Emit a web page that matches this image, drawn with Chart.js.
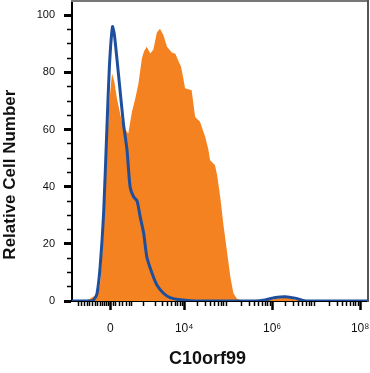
<!DOCTYPE html>
<html>
<head>
<meta charset="utf-8">
<script src="https://cdn.jsdelivr.net/npm/chart.js@4/dist/chart.umd.min.js"></script>
<style>
  html, body { margin: 0; padding: 0; background: #fff; }
  #wrap { width: 370px; height: 373px; }
</style>
</head>
<body>
<div id="wrap"><canvas id="histo"></canvas></div>
<script>
// x values are in display units of the biexponential axis (10^4 -> 4, 10^6 -> 6 ...)
const xTickValues = [2.32, 4, 6, 8];
const xTickLabels = ['0', '10⁴', '10⁶', '10⁸'];
const yTickValues = [0, 20, 40, 60, 80, 100];

// stained sample (filled orange)
const orangeX = [1.45, 1.75, 1.86, 1.98, 2.05, 2.09, 2.17, 2.24, 2.30, 2.36, 2.41, 2.47, 2.58, 2.66, 2.73,
  2.81, 2.89, 2.96, 3.04, 3.09, 3.15, 3.23, 3.30, 3.38, 3.45, 3.53, 3.61, 3.72, 3.80, 3.87, 3.93, 3.98,
  4.02, 4.17, 4.25, 4.36, 4.48, 4.55, 4.59, 4.70, 4.75, 4.82, 4.89, 4.97, 5.05, 5.12, 5.20, 5.31, 5.50,
  5.89, 6.09, 6.30, 6.50, 6.70, 8.18];
const orangeY = [0, 0.2, 0.8, 2, 3.5, 6, 24, 52, 70, 79.6, 77, 71, 63, 60, 58.6,
  66, 71, 76, 85, 87.5, 89, 86.6, 88, 94, 95.3, 93, 89, 87, 86.5, 84, 82, 78,
  74.5, 73.8, 64.4, 62.7, 57.4, 53, 49.3, 47.6, 44, 36.5, 27, 17.8, 8.5, 2.7, 0.8, 0.2, 0,
  0.2, 0.8, 1.1, 0.6, 0, 0];

// isotype control (blue outline)
const blueX = [1.45, 1.86, 1.95, 2.02, 2.09, 2.17, 2.24, 2.30, 2.37, 2.41, 2.47, 2.55, 2.62, 2.70, 2.77,
  2.85, 2.93, 3.00, 3.08, 3.15, 3.27, 3.38, 3.53, 3.68, 3.91, 4.25, 5.61, 5.84, 6.07, 6.30, 6.52, 6.70,
  6.86, 8.18];
const blueY = [0, 0, 0.5, 2.7, 12, 31, 59, 82, 96, 93.6, 85, 72.6, 62, 53, 40,
  36.5, 35, 29.5, 23.7, 15.5, 9.7, 5.6, 2.7, 1.2, 0.4, 0, 0, 0.4, 1.2, 1.5, 1.0, 0.2,
  0, 0];

// minor tick marks along the bottom (decoration only)
const xDenseTicks = [1.59, 1.66, 1.73, 1.80, 1.84, 1.91, 1.98, 2.02, 2.09, 2.14, 2.18, 2.23, 2.27,
  2.39, 2.45, 2.52, 2.59, 2.68, 2.75, 2.80];
const xMinorTicks = [...xDenseTicks, 3.07];
for (let m = 2; m <= 9; m++) {
  xMinorTicks.push(3.07 + 0.93 * Math.log10(m));
  for (let k = 4; k < 8; k++) xMinorTicks.push(k + Math.log10(m));
}
const yMinorTicks = [];
for (let v = 5; v < 100; v += 5) if (!yTickValues.includes(v)) yMinorTicks.push(v);

const font = 'Liberation Sans, Arial, Helvetica, sans-serif';
const toPoints = (xs, ys) => xs.map((x, i) => ({ x: x, y: ys[i] }));

const config = {
  type: 'line',
  data: {
    datasets: [
      {
        label: 'Isotype',
        data: toPoints(blueX, blueY),
        borderColor: '#1f4f9c',
        borderWidth: 3,
        fill: false,
        pointRadius: 0,
        tension: 0.2,
        order: 0
      },
      {
        label: 'C10orf99',
        data: toPoints(orangeX, orangeY),
        borderWidth: 0,
        borderColor: 'rgba(0,0,0,0)',
        backgroundColor: '#f58220',
        fill: 'origin',
        pointRadius: 0,
        tension: 0,
        order: 1
      }
    ]
  },
  options: {
    responsive: true,
    maintainAspectRatio: false,
    animation: false,
    layout: { padding: 0 },
    plugins: {
      legend: { display: false },
      tooltip: { enabled: false }
    },
    scales: {
      x: {
        type: 'linear',
        position: 'bottom',
        min: 1.45,
        max: 8.18,
        afterFit: (s) => { s.height = 72; s.paddingLeft = 0; s.paddingRight = 0; },
        afterBuildTicks: (s) => {
          s.ticks = [...xTickValues, ...xMinorTicks].sort((a, b) => a - b).map(v => ({ value: v }));
        },
        border: { color: '#000', width: 2 },
        grid: {
          drawOnChartArea: false,
          tickLength: 9,
          tickColor: '#000',
          tickWidth: (c) => xTickValues.includes(c.tick.value) ? 2.5 : 1.5,
          tickBorderDash: (c) => xTickValues.includes(c.tick.value) ? [] : [4, 20]
        },
        ticks: {
          autoSkip: false,
          maxRotation: 0,
          padding: 11,
          color: '#111',
          font: { family: font, size: 12 },
          callback: (v) => {
            const i = xTickValues.indexOf(v);
            return i >= 0 ? xTickLabels[i] : '';
          }
        },
        title: {
          display: true,
          text: 'C10orf99     ',
          color: '#111',
          padding: { top: 0, bottom: 3 },
          font: { family: font, size: 18, weight: 'bold' }
        }
      },
      y: {
        type: 'linear',
        position: 'left',
        min: 0,
        max: 105,
        afterFit: (s) => { s.width = 72; s.paddingTop = 0; s.paddingBottom = 0; },
        afterBuildTicks: (s) => {
          s.ticks = [...yTickValues, ...yMinorTicks].sort((a, b) => a - b).map(v => ({ value: v }));
        },
        border: { color: '#000', width: 2 },
        grid: {
          drawOnChartArea: false,
          tickLength: 8,
          tickColor: '#000',
          tickWidth: (c) => yTickValues.includes(c.tick.value) ? 3 : 1.5,
          tickBorderDash: (c) => yTickValues.includes(c.tick.value) ? [] : [5, 3],
          tickBorderDashOffset: (c) => yTickValues.includes(c.tick.value) ? 0 : 5
        },
        ticks: {
          autoSkip: false,
          padding: 9,
          color: '#111',
          font: { family: font, size: 11 },
          callback: (v) => yTickValues.includes(v) ? String(v) : ''
        },
        title: {
          display: true,
          text: 'Relative Cell Number          ',
          color: '#111',
          padding: { top: 0, bottom: 0 },
          font: { family: font, size: 17, weight: 'bold' }
        }
      },
      xTop: {
        type: 'linear',
        position: 'top',
        afterFit: (s) => { s.height = 1; s.paddingLeft = 0; s.paddingRight = 0; },
        border: { color: '#777', width: 2 },
        grid: { drawOnChartArea: false, drawTicks: false },
        ticks: { display: false }
      },
      yRight: {
        type: 'linear',
        position: 'right',
        afterFit: (s) => { s.width = 2; s.paddingTop = 0; s.paddingBottom = 0; },
        border: { color: '#555', width: 2 },
        grid: { drawOnChartArea: false, drawTicks: false },
        ticks: { display: false }
      }
    }
  }
};

const histoChart = new Chart(document.getElementById('histo'), config);
</script>
</body>
</html>
